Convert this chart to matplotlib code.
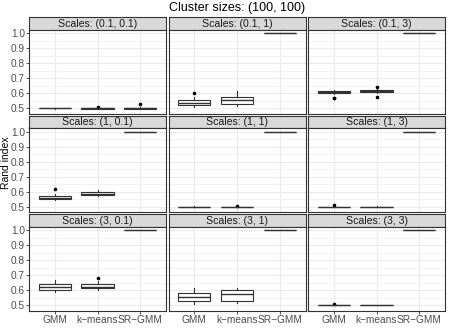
import numpy as np
import matplotlib
matplotlib.use("Agg")
import matplotlib.pyplot as plt

# ── 数据 ──────────────────────────────────────────────
panel_titles = ["Scales: (0.1, 0.1)", "Scales: (0.1, 1)", "Scales: (0.1, 3)",
                "Scales: (1, 0.1)", "Scales: (1, 1)", "Scales: (1, 3)",
                "Scales: (3, 0.1)", "Scales: (3, 1)", "Scales: (3, 3)"]
methods = ["GMM", "k\u2212means", "SR\u2212GMM"]

# each: per panel, [GMM, k-means, SR-GMM]
med = [[.501, .501, .502], [.535, .555, 1.0], [.612, .617, 1.0],
       [.562, .588, 1.0], [.501, .501, 1.0], [.501, .501, 1.0],
       [.620, .626, 1.0], [.554, .578, 1.0], [.501, .501, 1.0]]
q1 = [[.500, .499, .499], [.522, .529, 1.0], [.600, .608, 1.0],
      [.553, .577, 1.0], [.500, .500, 1.0], [.500, .500, 1.0],
      [.602, .615, 1.0], [.528, .530, 1.0], [.500, .500, 1.0]]
q3 = [[.502, .502, .506], [.555, .573, 1.0], [.618, .624, 1.0],
      [.571, .602, 1.0], [.502, .502, 1.0], [.502, .502, 1.0],
      [.644, .642, 1.0], [.585, .604, 1.0], [.502, .502, 1.0]]
whislo = [[.499, .499, .497], [.510, .513, 1.0], [.598, .606, 1.0],
          [.543, .575, 1.0], [.500, .500, 1.0], [.500, .500, 1.0],
          [.589, .602, 1.0], [.510, .515, 1.0], [.500, .500, 1.0]]
whishi = [[.503, .503, .508], [.575, .614, 1.0], [.625, .628, 1.0],
          [.585, .615, 1.0], [.503, .503, 1.0], [.503, .503, 1.0],
          [.672, .664, 1.0], [.615, .613, 1.0], [.503, .503, 1.0]]
fliers = [[[], [.509], [.528]], [[.603], [], []], [[.570, .567], [.642, .575], []],
          [[.622], [], []], [[], [.509], []], [[.510], [], []],
          [[], [.685], []], [[], [], []], [[.509], [], []]]

# ── 画布 ──────────────────────────────────────────────
W, H = 449, 336
fig = plt.figure(figsize=(W / 100, H / 100), dpi=100)
plt.rcParams["font.family"] = ["Liberation Sans", "DejaVu Sans"]

col_left = [29, 168.5, 308]
col_w = 137
strip_top = [17, 115.5, 214]
strip_h = 12.5
panel_h = 84

def px(x, y, w, h):
    return [x / W, 1 - (y + h) / H, w / W, h / H]

for i in range(9):
    r, c = divmod(i, 3)
    x0, y0 = col_left[c], strip_top[r]

    # strip
    sax = fig.add_axes(px(x0, y0, col_w, strip_h))
    sax.set_facecolor("#D9D9D9")
    sax.set_xticks([]); sax.set_yticks([])
    for s in sax.spines.values():
        s.set_color("#333333"); s.set_linewidth(0.8)
    sax.text(0.5, 0.45, panel_titles[i], ha="center", va="center",
             fontsize=7.6, color="#1A1A1A", transform=sax.transAxes)

    ax = fig.add_axes(px(x0, y0 + strip_h, col_w, panel_h))
    stats = []
    for j in range(3):
        stats.append(dict(med=med[i][j], q1=q1[i][j], q3=q3[i][j],
                          whislo=whislo[i][j], whishi=whishi[i][j],
                          fliers=fliers[i][j]))
    lp = dict(color="#333333", linewidth=0.8)
    ax.bxp(stats, positions=[1, 2, 3], widths=0.75, patch_artist=True,
           boxprops=dict(facecolor="white", edgecolor="#333333", linewidth=0.8),
           medianprops=dict(color="#333333", linewidth=1.0),
           whiskerprops=lp, capprops=dict(linewidth=0),
           flierprops=dict(marker="o", markersize=1.6, markerfacecolor="black",
                           markeredgecolor="black"))
    ax.set_xlim(0.4, 3.6)
    ax.set_ylim(0.466, 1.026)
    ax.set_yticks(np.arange(0.5, 1.01, 0.1))
    ax.set_yticks(np.arange(0.55, 1.0, 0.1), minor=True)
    ax.set_xticks([1, 2, 3])
    ax.grid(which="major", color="#EBEBEB", linewidth=0.8)
    ax.grid(which="minor", axis="y", color="#EBEBEB", linewidth=0.4)
    ax.set_axisbelow(True)
    for s in ax.spines.values():
        s.set_color("#333333"); s.set_linewidth(0.8)
    ax.tick_params(which="minor", length=0)
    ax.tick_params(colors="#333333", labelcolor="#4D4D4D", labelsize=7.3,
                   length=2, width=0.6, pad=1)
    if c == 0:
        ax.set_yticklabels([f"{v:.1f}" for v in np.arange(0.5, 1.01, 0.1)])
    else:
        ax.tick_params(axis="y", length=0, labelleft=False)
    if r == 2:
        ax.set_xticklabels(methods)
    else:
        ax.tick_params(axis="x", length=0, labelbottom=False)

fig.text(237 / W, 1 - 8 / H, "Cluster sizes: (100, 100)", ha="center",
         va="center", fontsize=9)
fig.text(6 / W, 1 - 163 / H, "Rand index", rotation=90, ha="center",
         va="center", fontsize=7.5)

plt.savefig("out.png", dpi=100)
